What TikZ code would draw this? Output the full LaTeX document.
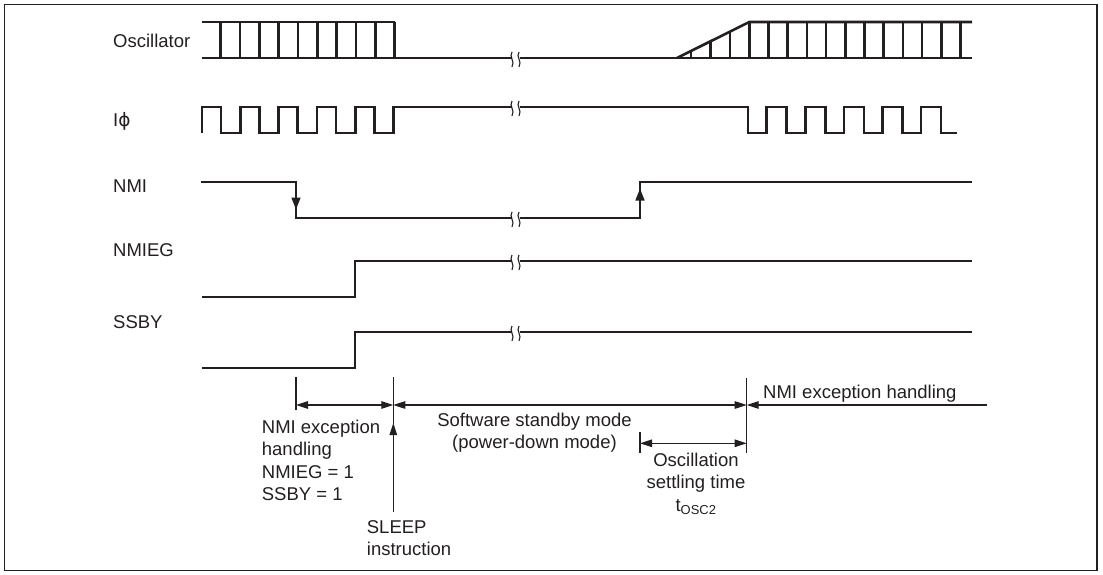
\documentclass[tikz,border=0pt]{standalone}
\usepackage{fontspec}
\setmainfont{Liberation Sans}
\newfontfamily\phifont{DejaVu Sans}
\usetikzlibrary{arrows.meta,calc}
\definecolor{ink}{RGB}{35,31,32}
\tikzset{
  wave/.style={draw=ink, line width=2.6pt},
  brk/.style={draw=ink, line width=1.1pt},
  guide/.style={draw=ink, line width=1.2pt},
  dimarr/.style={guide, {Triangle[length=12pt,width=7.5pt]}-{Triangle[length=12pt,width=7.5pt]}},
  sig/.style={anchor=base west, inner sep=0pt, text=ink},
  note/.style={inner sep=0pt, text=ink, align=left},
  edgearr/.style={draw=ink, line width=1.4pt, -{Triangle[length=12pt,width=9pt]}},
}
% break mark on a waveform: two small s-curves
\newcommand\breakmark[2]{%
  \foreach \bx in {#1-4,#1+3}
    \draw[brk] (\bx,#2-6) .. controls (\bx-3.5,#2-1) and (\bx+3.5,#2+3) .. (\bx,#2+9);}
\begin{document}
\begin{tikzpicture}[x=1pt, y=-1pt, font=\fontsize{18.5}{22.5}\selectfont]
  \useasboundingbox (0,0) rectangle (1103,575);
  \draw[line width=1.7pt, draw=ink] (4.5,4.5) rectangle (1097,570.5);

  % signal names
  \node[sig] (lOsc)   at (113,47.7)  {Oscillator};
  \node[sig] (lPhi)   at (113,126.6) {I{\phifont ϕ}};
  \node[sig] (lNmi)   at (113,192.6) {NMI};
  \node[sig] (lNmieg) at (113,256.6) {NMIEG};
  \node[sig] (lSsby)  at (113,328.6) {SSBY};

  % time marks
  \coordinate (tA) at (296,0);
  \coordinate (tB) at (393.3,0);
  \coordinate (tC) at (640,0);
  \coordinate (tD) at (746.7,0);

  % Oscillator
  \draw[wave] (202,22) -- (395,22);
  \draw[wave] (202,58) -- (512,58);
  \foreach \k in {0,...,9}
    \draw[wave] ({220.7+19.33*\k},22) -- ++(0,36);
  \draw[wave] (520,58) -- (972,58);
  \draw[wave] (677,58) -- (749.3,22) -- (972,22);
  \foreach \x in {691,710.5,730}
    \draw[wave] (\x,58) -- (\x,{58-0.498*(\x-677)});
  \foreach \k in {0,...,11}
    \draw[wave] ({749.3+19.2*\k},22) -- ++(0,36);
  \breakmark{516}{58}

  % I-phi
  \draw[wave] (202,133) \foreach \k in {0,...,4} {
      -- ({202+38.3*\k},133) -- ++(0,-26) -- ++(19,0) -- ++(0,26) }
    -- (393.5,133) -- (393.5,107) -- (512,107);
  \draw[wave] (520,107) -- (748,107) -- (748,133) \foreach \k in {0,...,4} {
      -- ({766.7+38.6*\k},133) -- ++(0,-26) -- ++(20,0) -- ++(0,26) }
    -- (957,133);
  \breakmark{516}{107}

  % NMI
  \draw[wave] (201,182) -- (tA |- 0,182) -- (tA |- 0,218) -- (512,218);
  \draw[wave] (520,218) -- (tC |- 0,218) -- (tC |- 0,182) -- (972,182);
  \draw[edgearr] (tA |- 0,190) -- (tA |- 0,209.5);
  \draw[edgearr] (tC |- 0,210) -- (tC |- 0,188.5);
  \breakmark{516}{218}

  % NMIEG
  \draw[wave] (202,297) -- (355,297) -- (355,261) -- (512,261);
  \draw[wave] (520,261) -- (972,261);
  \breakmark{516}{261}

  % SSBY
  \draw[wave] (202,368) -- (355,368) -- (355,332) -- (512,332);
  \draw[wave] (520,332) -- (972,332);
  \breakmark{516}{332}

  % period annotations
  \draw[guide] (tA |- 0,377) -- (tA |- 0,410);
  \draw[guide] (tB |- 0,377) -- (tB |- 0,424);
  \draw[guide] (tD |- 0,378) -- (tD |- 0,453);
  \draw[guide] (tC |- 0,432) -- (tC |- 0,453);
  \draw[dimarr] (tA |- 0,405) -- (tB |- 0,405);
  \draw[dimarr] (tB |- 0,405) -- (tD |- 0,405);
  \draw[guide, {Triangle[length=12pt,width=7.5pt]}-] (tD |- 0,405) -- (987,405);
  \draw[dimarr] (tC |- 0,443.3) -- (tD |- 0,443.3);
  \draw[guide, -{Triangle[length=12pt,width=7.5pt]}] (tB |- 0,512) -- (tB |- 0,423);

  \node[note, anchor=base west] (nmiex) at (261.7,500.7)
    {NMI exception\\handling\\NMIEG = 1\\SSBY = 1};
  \node[note, anchor=base west] (sleep) at (366.7,555.5)
    {SLEEP\\instruction};
  \node[note, anchor=base, align=center] (stby) at (534.5,448.5)
    {Software standby mode\\(power-down mode)};
  \node[note, anchor=base, align=center] (osc) at (696,511)
    {Oscillation\\settling time\\t\textsubscript{OSC2}};
  \node[sig] (nmih) at (763,398.3) {NMI exception handling};
\end{tikzpicture}
\end{document}
